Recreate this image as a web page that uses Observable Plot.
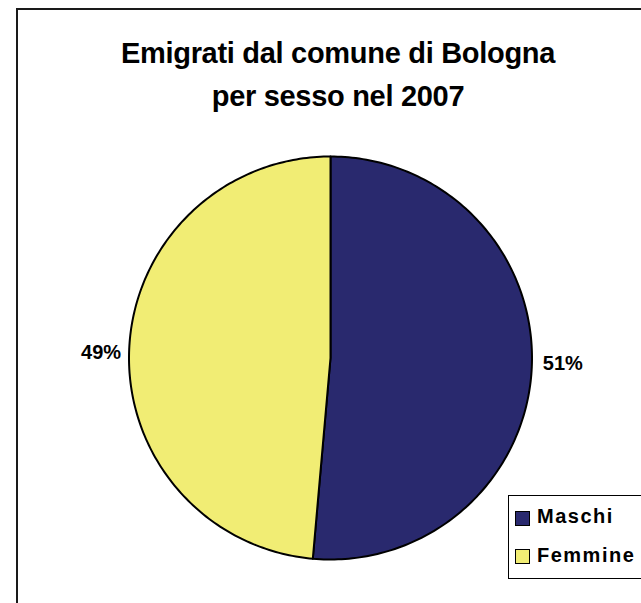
<!DOCTYPE html>
<html><head><meta charset="utf-8">
<script src="https://cdn.jsdelivr.net/npm/d3@7"></script>
<script src="https://cdn.jsdelivr.net/npm/@observablehq/plot@0.6"></script>
<style>
html,body{margin:0;padding:0;background:#fff;}
body{width:641px;height:603px;overflow:hidden;position:relative;font-family:"Liberation Sans",Arial,sans-serif;}
#frame{position:absolute;left:16px;top:8px;width:700px;height:700px;border-left:2px solid #1a1a1a;border-top:2px solid #1a1a1a;}
#title{position:absolute;left:17px;width:642px;top:32px;text-align:center;font-weight:bold;font-size:29px;line-height:43px;letter-spacing:-0.3px;color:#000;}
#chart{position:absolute;left:0;top:0;}
#legend{position:absolute;left:508px;top:495px;width:200px;height:84px;border:1.5px solid #000;background:#fff;box-sizing:border-box;}
.sw{position:absolute;left:6px;width:15px;height:15px;border:1.5px solid #000;box-sizing:border-box;}
.lt{position:absolute;left:28px;font-weight:bold;font-size:20px;line-height:20px;letter-spacing:1.5px;white-space:nowrap;color:#000;}
</style>
</head><body>
<div id="frame"></div>
<div id="chart"></div>
<div id="title">Emigrati dal comune di Bologna<br>per sesso nel 2007</div>
<div id="legend"></div>
<script>
const categories = ["Maschi", "Femmine"];
const values = [51.4, 48.6];
const labels = ["51%", "49%"];
const colors = ["#29296E", "#F1ED74"];

const arcs = d3.pie().sort(null).value(d => d)(values);

function slicePoints(a, i) {
  const pts = [{x: 0, y: 0, slice: categories[i]}];
  const n = 180;
  for (let k = 0; k <= n; k++) {
    const t = a.startAngle + (a.endAngle - a.startAngle) * k / n;
    pts.push({x: Math.sin(t), y: Math.cos(t), slice: categories[i]});
  }
  return pts;
}

const labelData = arcs.map((a, i) => {
  const m = (a.startAngle + a.endAngle) / 2;
  const r = 1.05;
  return {x: Math.sin(m) * r, y: Math.cos(m) * r, text: labels[i]};
});

const marks = arcs.map((a, i) =>
  Plot.line(slicePoints(a, i), {x: "x", y: "y", curve: "linear-closed", fill: colors[i], stroke: "#000", strokeWidth: 2, strokeLinejoin: "round"})
);
marks.push(Plot.text(labelData.filter(d => d.x >= 0), {x: "x", y: "y", text: "text", textAnchor: "start", dx: 1, dy: -4, fontSize: 20, fontWeight: "bold", fill: "#000"}));
marks.push(Plot.text(labelData.filter(d => d.x < 0), {x: "x", y: "y", text: "text", textAnchor: "end", dx: 2, dy: 4, fontSize: 20, fontWeight: "bold", fill: "#000"}));

const chart = Plot.plot({
  width: 641,
  height: 603,
  margin: 0,
  style: {background: "transparent", fontFamily: "'Liberation Sans', Arial, sans-serif"},
  x: {domain: [-1, 1], range: [128.5, 531.5], axis: null},
  y: {domain: [-1, 1], range: [559, 156], axis: null},
  marks
});
document.getElementById("chart").appendChild(chart);

const legend = document.getElementById("legend");
const swTops = [15, 53];
const txtTops = [10, 49];
categories.forEach((c, i) => {
  const sw = document.createElement("div");
  sw.className = "sw";
  sw.style.top = swTops[i] + "px";
  sw.style.background = colors[i];
  legend.appendChild(sw);
  const t = document.createElement("div");
  t.className = "lt";
  t.style.top = txtTops[i] + "px";
  t.textContent = c;
  legend.appendChild(t);
});
</script>
</body></html>
